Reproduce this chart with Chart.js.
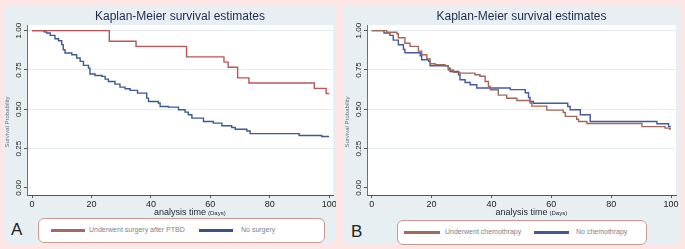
<!DOCTYPE html>
<html>
<head>
<meta charset="utf-8">
<script src="https://cdn.jsdelivr.net/npm/chart.js@4/dist/chart.umd.min.js"></script>
<style>
  html, body { margin: 0; padding: 0; }
  body { width: 685px; height: 249px; background: #fce6e6; position: relative; overflow: hidden;
         font-family: "Liberation Sans", Arial, sans-serif; }
  .panel { position: absolute; background: #e8eff2; border-radius: 6px; }
  .cv { position: absolute; }
  .leg { position: absolute; background: #fff; border: 1px solid #c89a92; border-radius: 6px; box-sizing: border-box; }
  .sw { position: absolute; top: 10px; height: 3px; }
  .lt { position: absolute; top: 7px; font-size: 7px; color: #7b828c; white-space: nowrap; }
  .tag { position: absolute; font-size: 17px; color: #222; }
</style>
</head>
<body>
<div class="panel" style="left:4px;top:5px;width:332px;height:238px"></div>
<div class="panel" style="left:343px;top:5px;width:337px;height:238px"></div>

<div class="cv" style="left:3px;top:3px"><canvas id="chartA" width="333" height="215"></canvas></div>
<div class="cv" style="left:343px;top:3px"><canvas id="chartB" width="337" height="215"></canvas></div>

<div class="tag" style="left:11px;top:220px">A</div>
<div class="leg" style="left:38px;top:218px;width:287px;height:25px">
  <span class="sw" style="left:12px;width:34px;background:#9e6c64"></span>
  <span class="lt" style="left:50px">Underwent surgery after PTBD</span>
  <span class="sw" style="left:160px;width:34px;background:#3d5189"></span>
  <span class="lt" style="left:202px">No surgery</span>
</div>

<div class="tag" style="left:351px;top:222px">B</div>
<div class="leg" style="left:397px;top:220px;width:250px;height:25px">
  <span class="sw" style="left:6px;width:36px;background:#a06a5e"></span>
  <span class="lt" style="left:47px">Underwent chemothrapy</span>
  <span class="sw" style="left:136px;width:35px;background:#46579a"></span>
  <span class="lt" style="left:178px">No chemothrapy</span>
</div>

<script>
// axis ticks
const xTicks = [0, 20, 40, 60, 80, 100];
const yTicks = [0, 0.25, 0.5, 0.75, 1];

// Panel A: surgery after PTBD vs no surgery (days, survival)
const surgeryDays = [0, 26, 35, 52, 64.6, 66, 69.2, 73, 95, 99, 100];
const surgerySurv = [1, 0.933, 0.9, 0.833, 0.8, 0.767, 0.7, 0.667, 0.633, 0.6, 0.6];

const noSurgeryDays = [0, 4, 4.9, 6.1, 7.7, 8.9, 10, 10.5, 11.1, 13.4, 15, 16.2, 17.3, 19, 19.5, 21.2,
  23.5, 24.6, 25.7, 27.9, 29.6, 31.3, 33, 35.5, 38.6, 39.2, 42.5, 43.1, 45.9, 49.3, 51.5, 52.6, 53.8,
  57.7, 61, 63.9, 67.2, 68.4, 72.3, 73.4, 89.9, 97.5, 100];
const noSurgerySurv = [1, 0.992, 0.985, 0.97, 0.949, 0.936, 0.911, 0.879, 0.858, 0.847, 0.826, 0.805,
  0.779, 0.762, 0.724, 0.715, 0.709, 0.692, 0.677, 0.66, 0.641, 0.631, 0.62, 0.603, 0.571, 0.55, 0.54,
  0.518, 0.514, 0.497, 0.482, 0.465, 0.444, 0.422, 0.412, 0.395, 0.384, 0.373, 0.362, 0.345, 0.333,
  0.327, 0.327];

// Panel B: chemotherapy vs no chemotherapy
const chemoDays = [0, 5, 8.4, 8.9, 11.1, 12.8, 15.6, 16.7, 18.4, 19.5, 21.2, 24.5, 25.6, 27.3, 29.5,
  34.5, 36.2, 37.9, 39, 39.6, 42.3, 45.1, 48.5, 52.9, 53.5, 58.5, 64, 64.7, 68.5, 69.1, 71.9, 90.3,
  98, 99.5, 100];
const chemoSurv = [1, 0.99, 0.98, 0.955, 0.92, 0.9, 0.87, 0.847, 0.82, 0.79, 0.783, 0.777, 0.75,
  0.735, 0.73, 0.72, 0.71, 0.677, 0.645, 0.624, 0.59, 0.57, 0.556, 0.54, 0.52, 0.495, 0.48, 0.455,
  0.437, 0.422, 0.41, 0.39, 0.38, 0.375, 0.375];

const noChemoDays = [0, 4.1, 6.1, 7.2, 8.9, 10.6, 11.1, 16.2, 16.7, 19, 19.5, 25.6, 26.2, 29, 29.5,
  31.2, 32.9, 35.1, 46.3, 51.3, 52.4, 52.9, 54, 65.5, 66.3, 69.7, 73, 95.3, 99.2, 100];
const noChemoSurv = [1, 0.985, 0.97, 0.94, 0.91, 0.88, 0.86, 0.84, 0.815, 0.805, 0.777, 0.762, 0.74,
  0.72, 0.688, 0.67, 0.656, 0.635, 0.625, 0.605, 0.575, 0.55, 0.538, 0.518, 0.497, 0.465, 0.422,
  0.408, 0.39, 0.39];

const toPoints = (xs, ys) => xs.map((x, i) => ({ x: x, y: ys[i] }));

const plotBg = {
  id: "plotBg",
  beforeDraw(chart) {
    const { ctx, chartArea: a } = chart;
    ctx.save();
    ctx.fillStyle = "#ffffff";
    ctx.fillRect(a.left, a.top, a.right - a.left, a.bottom - a.top);
    ctx.restore();
  }
};

// x title with the small "(Days)" and the y title, Stata style
const axisTitles = {
  id: "axisTitles",
  afterDraw(chart) {
    const { ctx, chartArea: a } = chart;
    ctx.save();
    ctx.fillStyle = "#1e2430";
    ctx.textBaseline = "middle";
    ctx.font = "9px 'Liberation Sans', Arial, sans-serif";
    const main = "analysis time";
    const w = ctx.measureText(main).width;
    const cx = (a.left + a.right) / 2;
    ctx.textAlign = "left";
    ctx.fillText(main, cx - w / 2, 210);
    ctx.font = "6px 'Liberation Sans', Arial, sans-serif";
    ctx.fillText("(Days)", cx + w / 2 + 2, 210.5);

    ctx.fillStyle = "#6c7280";
    ctx.font = "6px 'Liberation Sans', Arial, sans-serif";
    ctx.translate(4, 119);
    ctx.rotate(-Math.PI / 2);
    ctx.textAlign = "center";
    ctx.fillText("Survival Probability", 0, 0);
    ctx.restore();
  }
};

function makeChart(id, series, xMin, xMax, padRight) {
  return new Chart(document.getElementById(id).getContext("2d"), {
    type: "line",
    data: {
      datasets: series.map(s => ({
        label: s.label,
        data: toPoints(s.days, s.surv),
        borderColor: s.color,
        borderWidth: 1.4,
        stepped: true,
        pointRadius: 0,
        fill: false
      }))
    },
    options: {
      responsive: false,
      animation: false,
      layout: { padding: { left: 0, right: padRight, top: 0, bottom: 0 } },
      plugins: {
        legend: { display: false },
        tooltip: { enabled: false },
        title: {
          display: true,
          text: "Kaplan-Meier survival estimates",
          fullSize: false,
          color: "#1f2b4c",
          font: { family: "'Liberation Sans', Arial, sans-serif", size: 12, weight: "normal", lineHeight: 1.2 },
          padding: { top: 6, bottom: 1.6 }
        }
      },
      scales: {
        x: {
          type: "linear",
          min: xMin,
          max: xMax,
          afterBuildTicks: s => { s.ticks = xTicks.map(v => ({ value: v })); },
          afterFit: s => { s.height = 23; s.paddingLeft = 0; s.paddingRight = 0; },
          ticks: {
            color: "#222",
            font: { family: "'Liberation Sans', Arial, sans-serif", size: 9 },
            padding: 1,
            maxRotation: 0
          },
          grid: { drawOnChartArea: false, tickLength: 3, tickColor: "#555" },
          border: { color: "#555", width: 1 }
        },
        y: {
          type: "linear",
          min: -0.045,
          max: 1.036,
          afterBuildTicks: s => { s.ticks = yTicks.map(v => ({ value: v })); },
          afterFit: s => { s.width = 24; s.paddingTop = 0; s.paddingBottom = 0; },
          ticks: {
            color: "#222",
            font: { family: "'Liberation Sans', Arial, sans-serif", size: 8 },
            minRotation: 90,
            maxRotation: 90,
            crossAlign: "center",
            padding: -2.5,
            callback: v => v.toFixed(2)
          },
          grid: {
            tickLength: 3,
            tickColor: "#555",
            color: ctx => (ctx.tick && ctx.tick.value === 0 ? "rgba(0,0,0,0)" : "#e6edf0")
          },
          border: { color: "#6a7078", width: 1 }
        }
      }
    },
    plugins: [plotBg, axisTitles]
  });
}

makeChart("chartA", [
  { label: "Underwent surgery after PTBD", days: surgeryDays, surv: surgerySurv, color: "#bf5458" },
  { label: "No surgery", days: noSurgeryDays, surv: noSurgerySurv, color: "#3c5a8c" }
], -1.7, 101.3, 3);

makeChart("chartB", [
  { label: "Underwent chemothrapy", days: chemoDays, surv: chemoSurv, color: "#a0685c" },
  { label: "No chemothrapy", days: noChemoDays, surv: noChemoSurv, color: "#48599a" }
], -1.57, 101.67, 4);
</script>
</body>
</html>
